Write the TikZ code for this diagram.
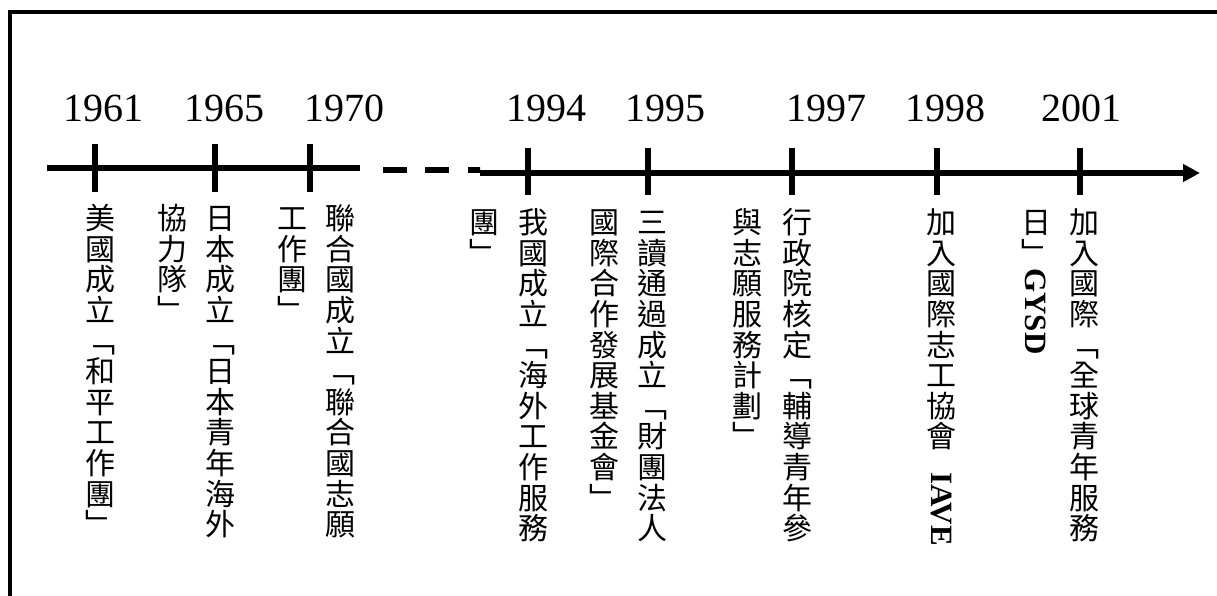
\documentclass[tikz,border=0pt]{standalone}
\usepackage{fontspec}
\usepackage{graphicx}
\setmainfont{Liberation Serif}
\newfontfamily\cjk{Noto Sans CJK TC}
\usetikzlibrary{arrows.meta}
\newcommand\vstrut{\vrule height 26.4pt depth 0pt width 0pt}
\newcommand\latrot[2]{\raisebox{#1}{\rotatebox{-90}{\rmfamily\bfseries\fontsize{31}{31}\selectfont #2}}}
\tikzset{
  axisline/.style={line width=6pt},
  tickmark/.style={line width=6pt},
  framel/.style={line width=4pt},
  year/.style={font=\fontsize{40}{40}\selectfont, anchor=base, inner sep=0pt},
  vcol/.style={font=\cjk\fontsize{30}{30.6}\selectfont, align=center, anchor=north, inner sep=0pt}
}
\begin{document}
\begin{tikzpicture}[x=1pt,y=-1pt]
\useasboundingbox (0,0) rectangle (1217,596);
% frame (top and left edges visible)
\draw[framel] (10,596) -- (10,12) -- (1217,12);

% timeline
\coordinate (L0) at (47,168);
\coordinate (L1) at (360,168);
\coordinate (D0) at (360,170);
\coordinate (D1) at (480,170);
\coordinate (R0) at (480,173);
\coordinate (R1) at (1200,173);
\draw[axisline] (L0) -- (L1);
\draw[axisline, dash pattern=on 0pt off 23pt on 24pt off 18pt on 24pt off 19pt on 12pt] (D0) -- (D1);
\draw[axisline, -{Triangle[length=17pt,width=17pt]}] (R0) -- (R1);

% ticks
\foreach \x in {95,215,310} \draw[tickmark] (\x,144) -- (\x,192);
\foreach \x in {528,648,792,937,1080} \draw[tickmark] (\x,148) -- (\x,195);

% years
\node[year] (y61) at (103.5,122) {1961};
\node[year] (y65) at (224.3,122) {1965};
\node[year] (y70) at (344,122) {1970};
\node[year] (y94) at (546.7,122) {1994};
\node[year] (y95) at (665.5,122) {1995};
\node[year] (y97) at (826,122) {1997};
\node[year] (y98) at (945.6,122) {1998};
\node[year] (y01) at (1081,122) {2001};

% vertical texts
\node[vcol] (c1) at (100,203) {\vstrut 美\\國\\成\\立\\﹁\\和\\平\\工\\作\\團\\﹂};
\node[vcol] (c3) at (220,203) {\vstrut 日\\本\\成\\立\\﹁\\日\\本\\青\\年\\海\\外};
\node[vcol] (c2) at (172.5,203) {\vstrut 協\\力\\隊\\﹂};
\node[vcol] (c5) at (340,203) {\vstrut 聯\\合\\國\\成\\立\\﹁\\聯\\合\\國\\志\\願};
\node[vcol] (c4) at (292.5,203) {\vstrut 工\\作\\團\\﹂};
\node[vcol] (c7) at (533,207) {\vstrut 我\\國\\成\\立\\﹁\\海\\外\\工\\作\\服\\務};
\node[vcol] (c6) at (484,207) {\vstrut 團\\﹂};
\node[vcol] (c9) at (652,207) {\vstrut 三\\讀\\通\\過\\成\\立\\﹁\\財\\團\\法\\人};
\node[vcol] (c8) at (604,207) {\vstrut 國\\際\\合\\作\\發\\展\\基\\金\\會\\﹂};
\node[vcol] (c11) at (797,207) {\vstrut 行\\政\\院\\核\\定\\﹁\\輔\\導\\青\\年\\參};
\node[vcol] (c10) at (747,207) {\vstrut 與\\志\\願\\服\\務\\計\\劃\\﹂};
\node[vcol] (c12) at (941,207) {\vstrut 加\\入\\國\\際\\志\\工\\協\\會\\\latrot{6pt}{IAVE}};
\node[vcol] (c14) at (1084,207) {\vstrut 加\\入\\國\\際\\﹁\\全\\球\\青\\年\\服\\務};
\node[vcol] (c13) at (1036,207) {\vstrut 日\\﹂\\\latrot{26.4pt}{GYSD}};
\end{tikzpicture}
\end{document}
